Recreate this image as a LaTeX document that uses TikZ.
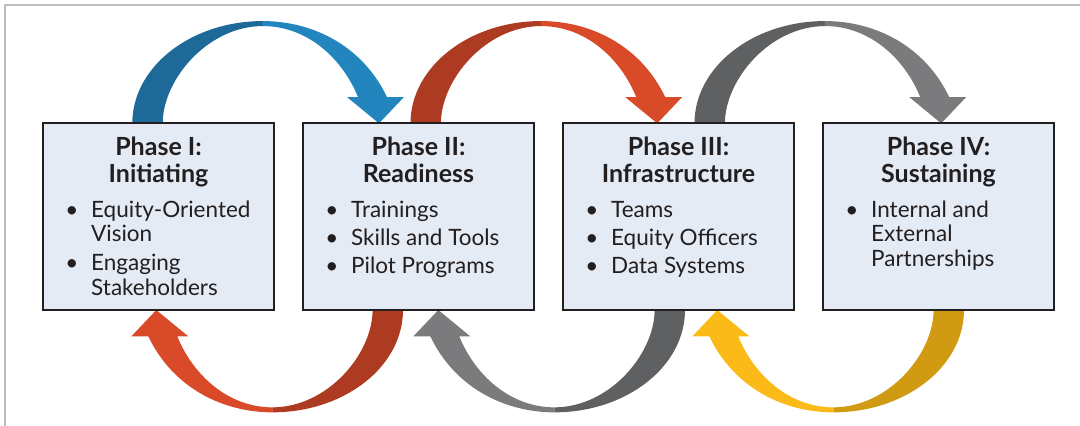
\documentclass[tikz,border=0pt]{standalone}
\usepackage{fontspec}
\setmainfont{Lato}
\usepackage{array}
\usepackage{tikz}
\usetikzlibrary{positioning,calc,backgrounds}

\definecolor{boxfill}{HTML}{E4EBF5}
\definecolor{boxline}{HTML}{231F20}
\definecolor{bluedark}{HTML}{1D6A99}
\definecolor{bluelight}{HTML}{2385BD}
\definecolor{reddark}{HTML}{AD3B21}
\definecolor{redlight}{HTML}{D84A28}
\definecolor{graydark}{HTML}{5F6062}
\definecolor{graylight}{HTML}{7B7B7D}
\definecolor{golddark}{HTML}{D09B12}
\definecolor{goldlight}{HTML}{FBBA17}
\definecolor{framegray}{HTML}{BDBDBD}

\newcommand{\phaselist}[1]{%
  \begin{tabular}{@{}w{c}{14pt}@{\hspace{12.3pt}}l@{}}#1\end{tabular}}
\newcommand{\pitem}{\textbullet &}

\tikzset{
    phase/.style={
           rectangle,
           draw=boxline, line width=2pt,
           fill=boxfill,
           minimum width=231pt,
           minimum height=186.7pt,
           inner sep=0pt, outer sep=0pt,
           },
    phasetitle/.style={
           align=center, inner sep=0pt, text=boxline,
           font=\fontsize{25}{27}\selectfont\bfseries,
           },
    phaseitems/.style={
           inner sep=0pt, text=boxline, anchor=north west,
           font=\fontsize{22.5}{24.5}\selectfont,
           },
    pics/phasearrow/.style 2 args={code={
      \fill[#1] (0,0) .. controls (0,-56.5) and (58.6,-102.3) .. (130.7,-102.3)
                -- (130.7,-97.3) .. controls (75.3,-97.3) and (30.4,-43.6) .. (30.4,0) -- cycle;
      \fill[#2] (130.4,-102.3) .. controls (180,-102.3) and (230,-78) .. (254.7,-26.3)
                -- (271.7,-26.3) -- (246.7,0) -- (214.7,-26.3) -- (225.7,-26.3)
                .. controls (210,-65) and (175,-97.3) .. (130.4,-97.3) -- cycle;
    }},
}

\begin{document}
\begin{tikzpicture}[x=1pt,y=-1pt,node distance=29pt]
  \useasboundingbox (0,0) rectangle (1080,426);
  \draw[framegray, line width=1.5pt] (1080,5) -- (5,5) -- (5,426);

  \node[phase] (p1) at (158.5,216.7) {};
  \node[phase] (p2) [right=of p1]     {};
  \node[phase] (p3) [right=of p2]     {};
  \node[phase] (p4) [right=of p3]     {};

  \node[phasetitle] (t1) [below=13.3pt of p1.north] {Phase I:\\Initiating};
  \node[phasetitle] (t2) [below=13.3pt of p2.north] {Phase II:\\Readiness};
  \node[phasetitle] (t3) [below=13.3pt of p3.north] {Phase III:\\Infrastructure};
  \node[phasetitle] (t4) [below=13.3pt of p4.north] {Phase IV:\\Sustaining};

  \node[phaseitems] (l1) at ($(p1.north west)+(21.7,76.6)$)
       {\phaselist{\pitem Equity-Oriented\\ & Vision\\[4.5pt] \pitem Engaging\\ & Stakeholders}};
  \node[phaseitems] (l2) at ($(p2.north west)+(21.7,76.6)$)
       {\phaselist{\pitem Trainings\\[3.5pt] \pitem Skills and Tools\\[3.5pt] \pitem Pilot Programs}};
  \node[phaseitems] (l3) at ($(p3.north west)+(21.7,76.6)$)
       {\phaselist{\pitem Teams\\[3.5pt] \pitem Equity Officers\\[3.5pt] \pitem Data Systems}};
  \node[phaseitems] (l4) at ($(p4.north west)+(21.7,76.6)$)
       {\phaselist{\pitem Internal and\\ & External\\ & Partnerships}};

  \begin{scope}[on background layer]
    \pic at ($(p1.north)+(-26.2,0)$) {phasearrow={bluedark}{bluelight}};
    \pic at ($(p2.north)+(-8,0)$)    {phasearrow={reddark}{redlight}};
    \pic at ($(p3.north)+(16,0)$)    {phasearrow={graydark}{graylight}};
    \pic[rotate=180] at ($(p2.south)+(-15.5,0)$) {phasearrow={reddark}{redlight}};
    \pic[rotate=180] at ($(p3.south)+(6.5,0)$)   {phasearrow={graydark}{graylight}};
    \pic[rotate=180] at ($(p4.south)+(25.5,0)$)  {phasearrow={golddark}{goldlight}};
  \end{scope}
\end{tikzpicture}
\end{document}
